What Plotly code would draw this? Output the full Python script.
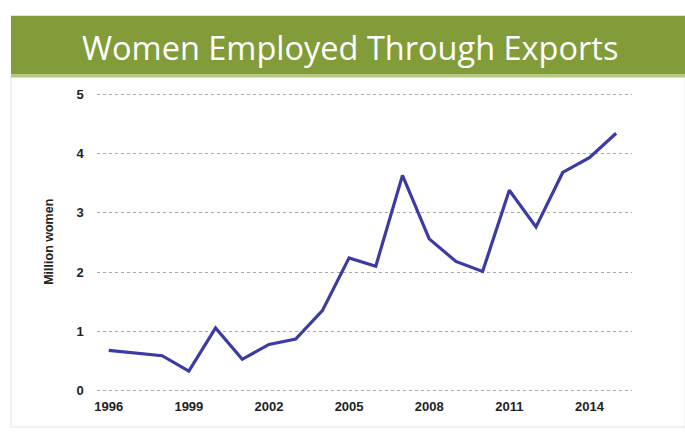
import plotly.graph_objects as go

years = [1996, 1998, 1999, 2000, 2001, 2002, 2003, 2004, 2005, 2006, 2007,
         2008, 2009, 2010, 2011, 2012, 2013, 2014, 2015]
women_millions = [0.68, 0.59, 0.33, 1.06, 0.53, 0.78, 0.87, 1.35, 2.24, 2.10, 3.63,
                  2.56, 2.18, 2.01, 3.38, 2.76, 3.68, 3.93, 4.34]
x_ticks = [1996, 1999, 2002, 2005, 2008, 2011, 2014]
y_ticks = [0, 1, 2, 3, 4, 5]
title_text = "Women Employed Through Exports"
y_label = "Million women"

W, H = 685, 432

fig = go.Figure()
fig.add_trace(go.Scatter(
    x=years, y=women_millions, mode="lines",
    line=dict(color="#3b3ba3", width=3.2),
    hoverinfo="skip", showlegend=False,
))

tick_font = dict(family="Arial, Liberation Sans, sans-serif", size=13, color="#222222")

fig.update_layout(
    width=W, height=H,
    margin=dict(l=0, r=0, t=0, b=0),
    paper_bgcolor="white", plot_bgcolor="white",
    xaxis=dict(
        domain=[95 / W, 632 / W],
        range=[1995.55, 2015.6],
        tickmode="array", tickvals=x_ticks, ticktext=[f"<b>{t}</b>" for t in x_ticks],
        showgrid=False, zeroline=False, showline=False, ticks="",
        tickfont=tick_font, ticklabelstandoff=3,
    ),
    yaxis=dict(
        domain=[1 - 398 / H, 1 - 89 / H],
        range=[-0.05, 5.05],
        tickmode="array", tickvals=y_ticks, ticktext=[f"<b>{t}</b>" for t in y_ticks],
        showgrid=True, gridcolor="#a8a8a8", gridwidth=1, griddash="3px,3px",
        zeroline=False, showline=False, ticks="",
        tickfont=tick_font, ticklabelstandoff=12,
    ),
    shapes=[
        dict(type="rect", xref="paper", yref="paper",
             x0=9 / W, x1=1.0, y0=0, y1=1 - 74 / H,
             line=dict(color="#e4e4e4", width=1), fillcolor="rgba(0,0,0,0)", layer="below"),
        dict(type="rect", xref="paper", yref="paper",
             x0=9 / W, x1=1.0, y0=1 - 72 / H, y1=1 - 12 / H,
             line=dict(width=0), fillcolor="#819c38", layer="below"),
        dict(type="rect", xref="paper", yref="paper",
             x0=9 / W, x1=1.0, y0=1 - 75 / H, y1=1 - 72 / H,
             line=dict(width=0), fillcolor="#b5c97a", layer="below"),
    ],
    annotations=[
        dict(text=title_text, xref="paper", yref="paper",
             x=349.5 / W, y=1 - 44 / H, xanchor="center", yanchor="middle",
             showarrow=False,
             font=dict(family="Open Sans, sans-serif", size=32.5, color="white")),
        dict(text=f"<b>{y_label}</b>", xref="paper", yref="paper",
             x=47 / W, y=1 - 243 / H, xanchor="center", yanchor="middle",
             textangle=-90, showarrow=False,
             font=dict(family="Arial, Liberation Sans, sans-serif", size=12.5, color="#222222")),
    ],
)

fig.write_html("out.html")
